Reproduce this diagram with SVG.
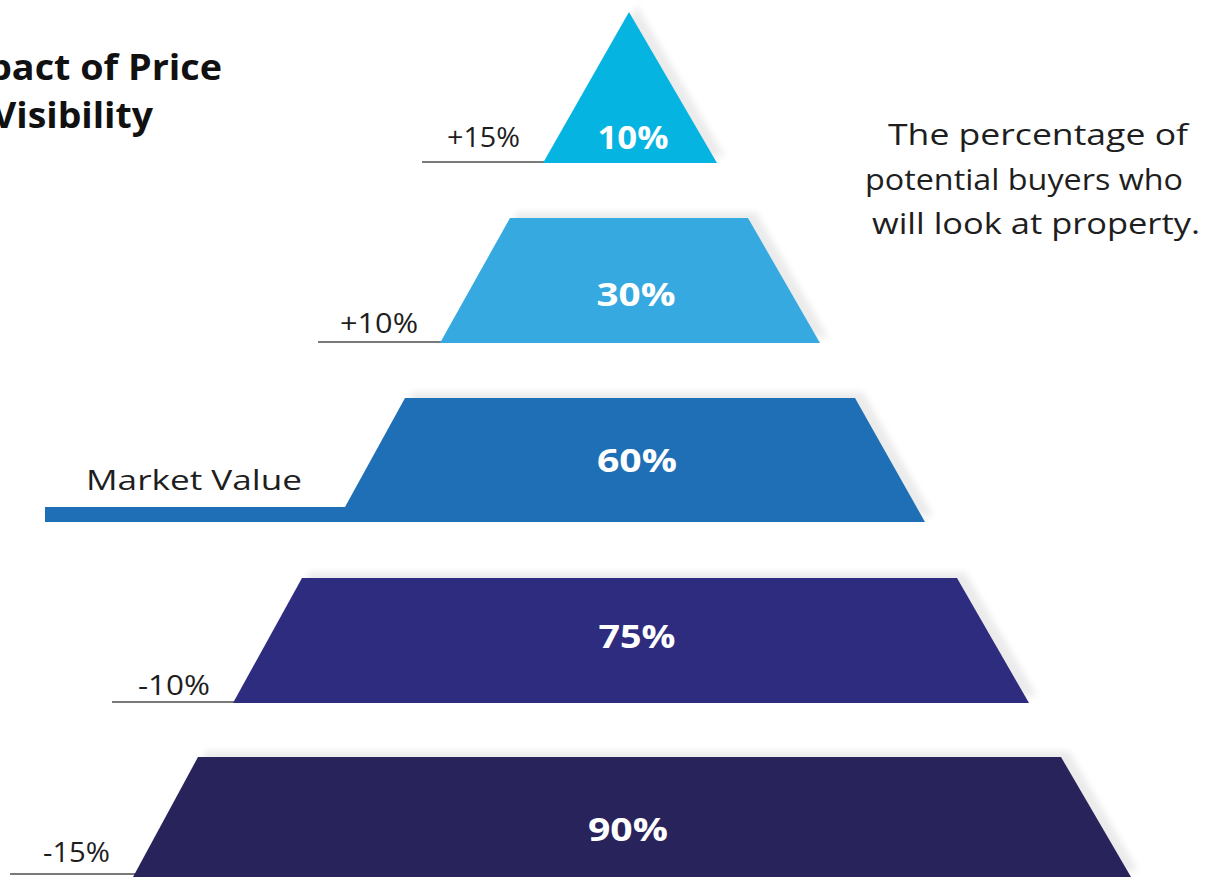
<svg xmlns="http://www.w3.org/2000/svg" width="1223" height="877" viewBox="0 0 1223 877">
<defs>
<filter id="sh" x="-10%" y="-20%" width="120%" height="140%">
<feGaussianBlur stdDeviation="3"/>
</filter>
</defs>
<style>
.pct{font-family:"Open Sans","Liberation Sans",sans-serif;font-weight:700;font-size:32px;fill:#ffffff;text-anchor:middle}
.lbl{font-family:"Open Sans","Liberation Sans",sans-serif;font-weight:400;font-size:27px;fill:#1e1e1e}
.note{font-family:"Open Sans","Liberation Sans",sans-serif;font-weight:400;font-size:30px;fill:#1e1e1e;text-anchor:middle}
.title{font-family:"Open Sans","Liberation Sans",sans-serif;font-weight:700;font-size:35px;fill:#111111}
.lead{stroke:#7a7a7a;stroke-width:2;fill:none}
.shadow{fill:#ebebeb;filter:url(#sh)}
</style>
<rect width="1223" height="877" fill="#ffffff"/>
<g id="title">
<text class="title" x="-12" y="80" textLength="234" lengthAdjust="spacingAndGlyphs">pact of Price</text>
<text class="title" x="-8" y="128" textLength="161" lengthAdjust="spacingAndGlyphs">Visibility</text>
</g>
<g id="note">
<text class="note" x="1038" y="145" textLength="300" lengthAdjust="spacingAndGlyphs">The percentage of</text>
<text class="note" x="1024" y="190" textLength="318" lengthAdjust="spacingAndGlyphs">potential buyers who</text>
<text class="note" x="1036" y="234" textLength="328" lengthAdjust="spacingAndGlyphs">will look at property.</text>
</g>
<g id="connectors">
<line class="lead" x1="422" y1="162" x2="545" y2="162"/>
<line class="lead" x1="318" y1="342" x2="442" y2="342"/>
<line class="lead" x1="112" y1="702" x2="235" y2="702"/>
<line class="lead" x1="10" y1="874" x2="135" y2="874"/>
</g>
<g id="tier1">
<polygon class="shadow" points="637,6 725,157 551,157"/>
<polygon points="629,12 717,163 543,163" fill="#06b4e2"/>
<text class="pct" x="633" y="149" textLength="71" lengthAdjust="spacingAndGlyphs">10%</text>
<text class="lbl" x="447" y="147" textLength="73" lengthAdjust="spacingAndGlyphs">+15%</text>
</g>
<g id="tier2">
<polygon class="shadow" points="518,212 756,212 828,337 448,337"/>
<polygon points="510,218 748,218 820,343 440,343" fill="#36a9e0"/>
<text class="pct" x="636" y="306" textLength="79" lengthAdjust="spacingAndGlyphs">30%</text>
<text class="lbl" x="340" y="333" textLength="78" lengthAdjust="spacingAndGlyphs">+10%</text>
</g>
<g id="tier3">
<polygon class="shadow" points="413,392 863,392 933,516 353,516"/>
<polygon points="405,398 855,398 925,522 45,522 45,507 345,507" fill="#1f6fb6"/>
<text class="pct" x="637" y="472" textLength="80" lengthAdjust="spacingAndGlyphs">60%</text>
<text class="lbl" x="86" y="490" font-size="30" textLength="216" lengthAdjust="spacingAndGlyphs">Market Value</text>
</g>
<g id="tier4">
<polygon class="shadow" points="310,572 965,572 1037,696 241,696"/>
<polygon points="302,578 957,578 1029,703 233,703" fill="#2e2c7f"/>
<text class="pct" x="637" y="648" textLength="77" lengthAdjust="spacingAndGlyphs">75%</text>
<text class="lbl" x="138" y="695" textLength="72" lengthAdjust="spacingAndGlyphs">-10%</text>
</g>
<g id="tier5">
<polygon class="shadow" points="206,751 1069,751 1138,871 141,871"/>
<polygon points="198,757 1061,757 1131,877 133,877" fill="#29235c"/>
<text class="pct" x="628" y="841" textLength="80" lengthAdjust="spacingAndGlyphs">90%</text>
<text class="lbl" x="43" y="862" textLength="67" lengthAdjust="spacingAndGlyphs">-15%</text>
</g>
</svg>
